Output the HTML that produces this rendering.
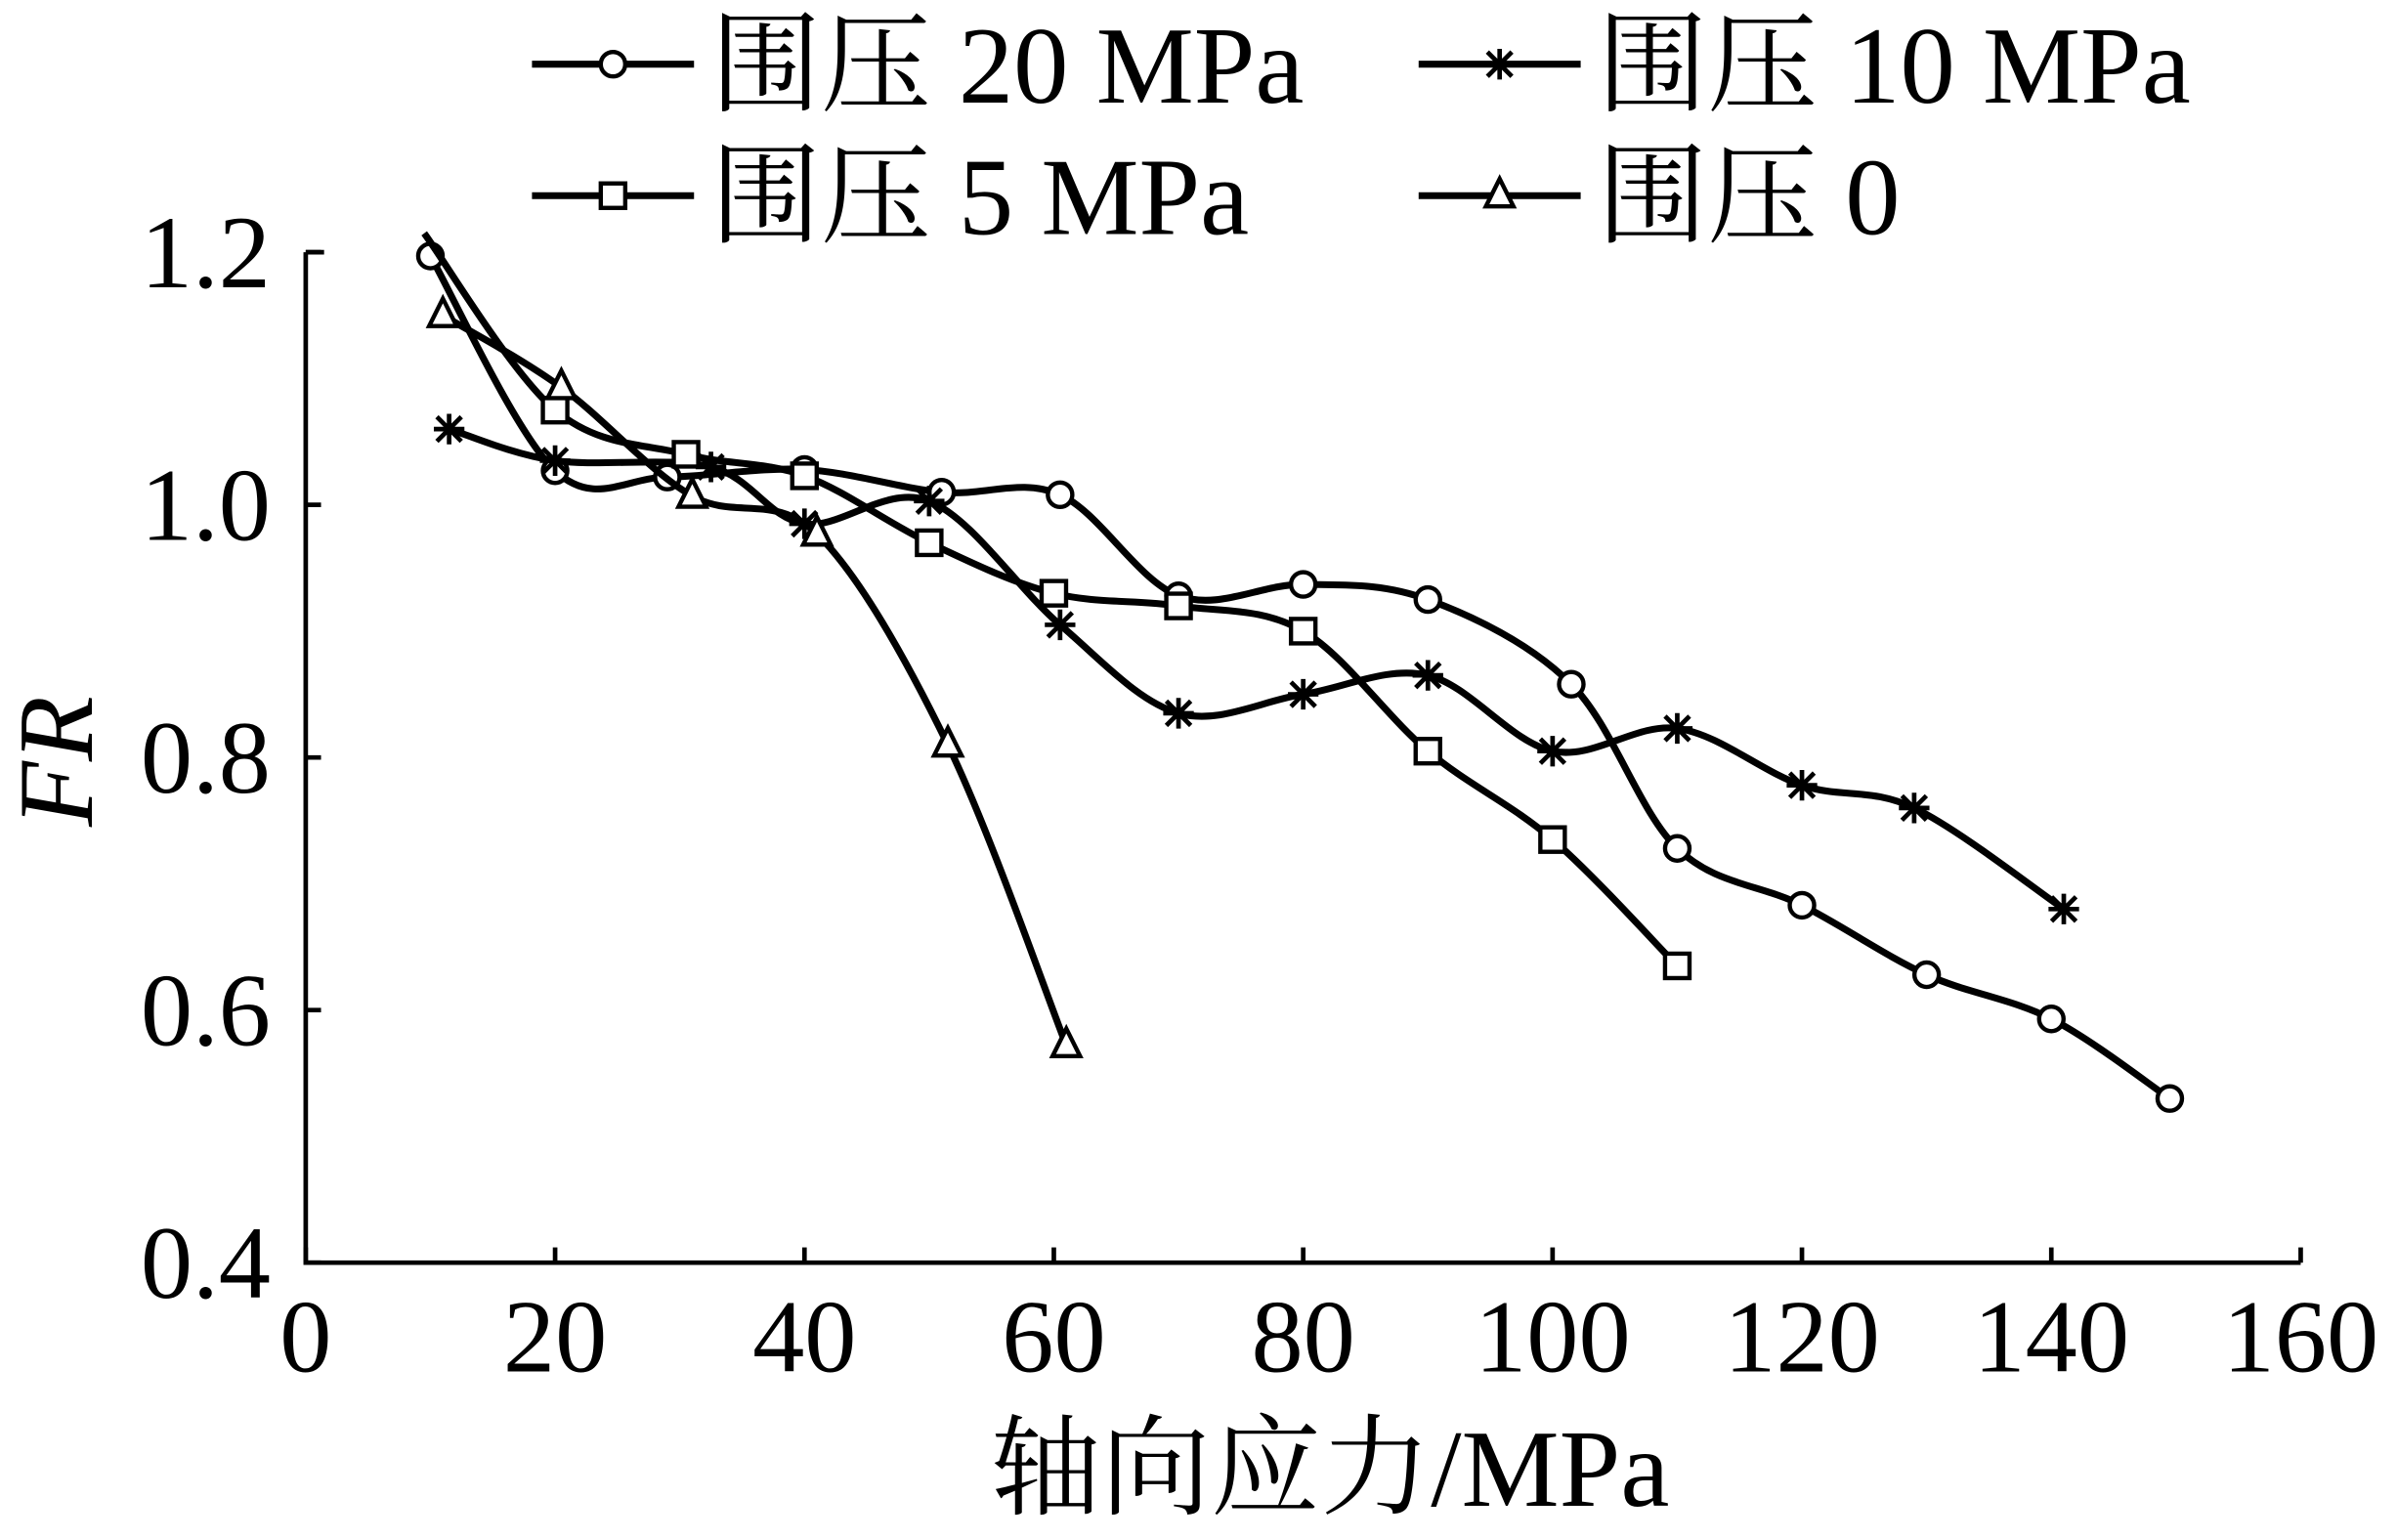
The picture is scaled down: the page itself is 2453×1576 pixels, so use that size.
<!DOCTYPE html>
<html><head><meta charset="utf-8"><style>
html,body{margin:0;padding:0;background:#fff;}
svg{display:block;}
text{font-family:"Liberation Serif","Noto Serif CJK SC",serif;fill:#000;}
</style></head><body>
<svg id="chart" width="2453" height="1576" viewBox="0 0 1568 1007.4" preserveAspectRatio="none" xmlns="http://www.w3.org/2000/svg">
<g id="axes"></g>
<g id="series"></g>
<g id="legend"></g>
<text x="870" y="985" font-size="72" text-anchor="middle">轴向应力/MPa</text>
<text transform="translate(60,498) rotate(-90)" font-size="70" font-style="italic" text-anchor="middle">FR</text>
</svg>
<script>
const xTicks=[0,20,40,60,80,100,120,140,160];
const yTicks=[0.4,0.6,0.8,1.0,1.2];
const yTickLabels=["0.4","0.6","0.8","1.0","1.2"];
const s20x=[10,20,29,40,51,60.5,70,80,90,101.5,110,120,130,140,149.5];
const s20y=[1.197,1.027,1.022,1.028,1.01,1.008,0.928,0.937,0.925,0.858,0.728,0.683,0.628,0.593,0.53];
const s10x=[11.5,20,32.5,40,50,60.5,70,80,90,100,110,120,129,141];
const s10y=[1.06,1.035,1.03,0.985,1.003,0.905,0.835,0.85,0.865,0.805,0.823,0.778,0.76,0.68];
const s5x=[9.5,20,30.5,40,50,60,70,80,90,100,110];
const s5y=[1.215,1.075,1.04,1.023,0.97,0.93,0.92,0.9,0.805,0.735,0.635];
const s0x=[11,20.5,31,41,51.5,61];
const s0y=[1.15,1.093,1.007,0.977,0.81,0.572];
const names=["围压 20 MPa","围压 10 MPa","围压 5 MPa","围压 0"];
const NS="http://www.w3.org/2000/svg";
const X=v=>200+(v/160)*1305;
const Y=v=>826-(v-0.4)/0.8*661;
function mk(t,a,p){const e=document.createElementNS(NS,t);for(const k in a)e.setAttribute(k,a[k]);p.appendChild(e);return e;}
const ax=document.getElementById('axes');
let e=mk('path',{d:`M${X(0)},${Y(1.2)} H${X(0)+12} M${X(0)},${Y(1.2)} V${Y(0.4)} H${X(160)}`,fill:'none',stroke:'#000','stroke-width':3},ax);

xTicks.forEach(v=>{
 let t=mk('line',{x1:X(v),x2:X(v),y1:Y(0.4),y2:Y(0.4)-10,stroke:'#000','stroke-width':3},ax);
 
 let l=mk('text',{x:X(v),y:897,'font-size':68,'text-anchor':'middle'},ax);l.textContent=v;
 
});
yTicks.forEach((v,i)=>{
 let t=mk('line',{x1:X(0),x2:X(0)+10,y1:Y(v),y2:Y(v),stroke:'#000','stroke-width':3},ax);
 
 let l=mk('text',{x:177,y:Y(v)+23,'font-size':68,'text-anchor':'end'},ax);l.textContent=yTickLabels[i];
 
});
function curve(px,py){
 let d=`M${px[0]},${py[0]}`;
 for(let i=0;i<px.length-1;i++){
  const p0=i>0?i-1:i,p3=i+2<px.length?i+2:i+1;
  const c1x=px[i]+(px[i+1]-px[p0])/6,c1y=py[i]+(py[i+1]-py[p0])/6;
  const c2x=px[i+1]-(px[p3]-px[i])/6,c2y=py[i+1]-(py[p3]-py[i])/6;
  d+=` C${c1x},${c1y} ${c2x},${c2y} ${px[i+1]},${py[i+1]}`;
 }
 return d;
}
function marker(type,x,y,g){
 let m;
 if(type==='c')m=mk('circle',{cx:x,cy:y,r:8,fill:'#fff',stroke:'#000','stroke-width':2.8},g);
 else if(type==='s')m=mk('rect',{x:x-8,y:y-8,width:16,height:16,fill:'#fff',stroke:'#000','stroke-width':2.8},g);
 else if(type==='t')m=mk('path',{d:`M${x},${y-11} L${x+9},${y+7} L${x-9},${y+7} Z`,fill:'#fff',stroke:'#000','stroke-width':2.8},g);
 else m=mk('path',{d:`M${x-10},${y} H${x+10} M${x},${y-10} V${y+10} M${x-8},${y-8} L${x+8},${y+8} M${x+8},${y-8} L${x-8},${y+8}`,stroke:'#000','stroke-width':3},g);
 
}
const sg=document.getElementById('series');
const sets=[[s20x,s20y,'c','series-20mpa'],[s10x,s10y,'x','series-10mpa'],[s5x,s5y,'s','series-5mpa'],[s0x,s0y,'t','series-0mpa']];
sets.forEach(([xs,ys,t,n],k)=>{
 const g=mk('g',{},sg);
 const px=xs.map(X),py=ys.map(Y);
 const p=mk('path',{d:curve(px,py),fill:'none',stroke:'#000','stroke-width':4.5},g);
 
 px.forEach((x,i)=>{if(!(t==='s'&&i===0))marker(t,x,py[i],g);});
});
const lg=document.getElementById('legend');
const lpos=[[348,42],[928,42],[348,128],[928,128]];
const ltypes=['c','x','s','t'];
lpos.forEach(([x,y],i)=>{
 const g=mk('g',{},lg);
 mk('line',{x1:x,x2:x+106,y1:y,y2:y,stroke:'#000','stroke-width':4.5},g);
 marker(ltypes[i],x+53,y,g);
 const t=mk('text',{x:x+117,y:y+25,'font-size':72},g);t.textContent=names[i];
 
});
</script>
</body></html>
